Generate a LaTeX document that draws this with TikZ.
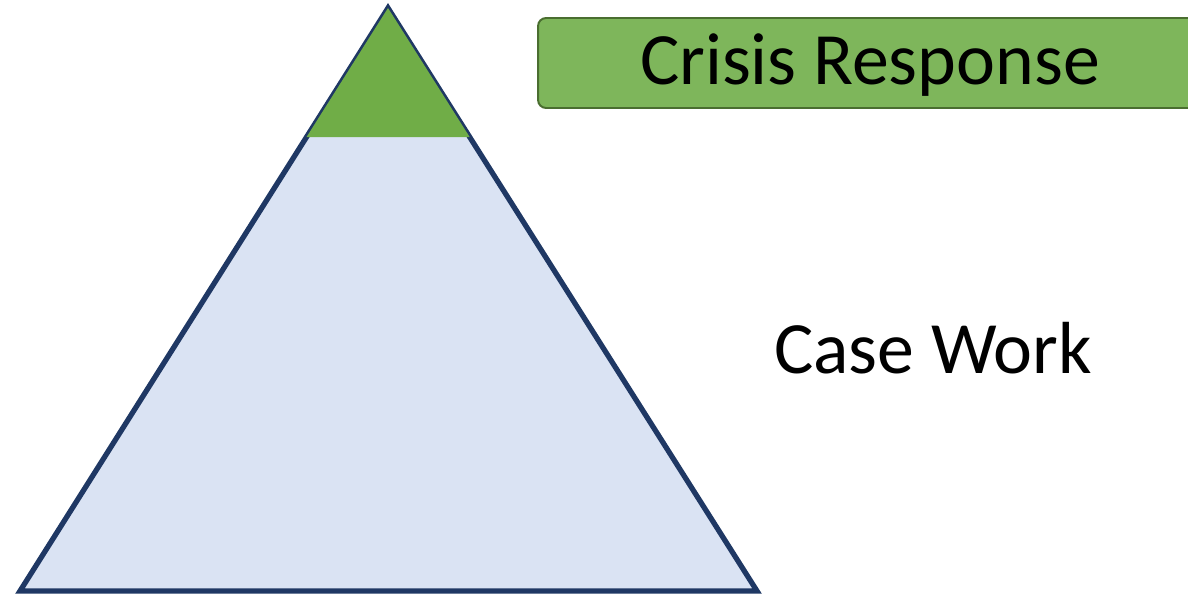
\documentclass[tikz,border=0pt]{standalone}
\usepackage{fontspec}
\setmainfont{Carlito}
\usepackage{tikz}
\usetikzlibrary{calc,positioning}

\definecolor{tierblue}{HTML}{DAE3F3}
\definecolor{tieredge}{HTML}{1F3864}
\definecolor{tiergreen}{HTML}{70AD47}
\definecolor{boxgreen}{HTML}{7EB65B}
\definecolor{boxedge}{HTML}{4A6E30}

\tikzset{
  tierlabel/.style={font=\fontsize{42}{50}\selectfont, text=black, inner sep=0pt},
  headbox/.style={tierlabel, draw=boxedge, fill=boxgreen, line width=1.1pt,
    rounded corners=0.16cm, minimum width=13.28cm, minimum height=1.8cm}
}

\begin{document}
\begin{tikzpicture}[x=0.02cm, y=-0.02cm]
        \useasboundingbox (0,0) rectangle (1188,594);
        \clip (0,0) rectangle (1188,594);

        % pyramid
        \coordinate (apex) at (388,8);
        \coordinate (baseL) at (20,591);
        \coordinate (baseR) at (757,591);
        \draw[fill=tierblue, draw=tieredge, line width=3pt, line join=miter] (apex) -- (baseL) -- (baseR) -- cycle;
        \fill[tiergreen] (apex) -- ($(apex)!0.2213!(baseL)$) -- ($(apex)!0.2213!(baseR)$) -- cycle;

        % labels
        \node (crisis) [headbox, text depth=0.16cm] at (870,63) {Crisis Response};
        \node (casework) [tierlabel] at (933,348) {Case Work};
    \end{tikzpicture}
\end{document}
